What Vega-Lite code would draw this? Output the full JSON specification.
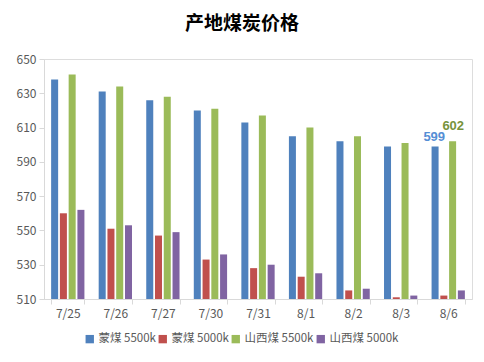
{
  "$schema": "https://vega.github.io/schema/vega-lite/v6.json",
  "width": 428,
  "height": 240,
  "autosize": {"type": "none"},
  "padding": {"left": 44, "top": 59, "right": 12, "bottom": 63},
  "background": "white",
  "title": {
    "text": "产地煤炭价格",
    "fontSize": 19,
    "fontWeight": "bold",
    "font": "Noto Sans CJK SC",
    "color": "#000000",
    "anchor": "middle",
    "dx": -16,
    "offset": 19
  },
  "data": {
    "values": [
      {"date": "7/25", "series": "蒙煤 5500k", "price": 638},
      {"date": "7/25", "series": "蒙煤 5000k", "price": 560},
      {"date": "7/25", "series": "山西煤 5500k", "price": 641},
      {"date": "7/25", "series": "山西煤 5000k", "price": 562},
      {"date": "7/26", "series": "蒙煤 5500k", "price": 631},
      {"date": "7/26", "series": "蒙煤 5000k", "price": 551},
      {"date": "7/26", "series": "山西煤 5500k", "price": 634},
      {"date": "7/26", "series": "山西煤 5000k", "price": 553},
      {"date": "7/27", "series": "蒙煤 5500k", "price": 626},
      {"date": "7/27", "series": "蒙煤 5000k", "price": 547},
      {"date": "7/27", "series": "山西煤 5500k", "price": 628},
      {"date": "7/27", "series": "山西煤 5000k", "price": 549},
      {"date": "7/30", "series": "蒙煤 5500k", "price": 620},
      {"date": "7/30", "series": "蒙煤 5000k", "price": 533},
      {"date": "7/30", "series": "山西煤 5500k", "price": 621},
      {"date": "7/30", "series": "山西煤 5000k", "price": 536},
      {"date": "7/31", "series": "蒙煤 5500k", "price": 613},
      {"date": "7/31", "series": "蒙煤 5000k", "price": 528},
      {"date": "7/31", "series": "山西煤 5500k", "price": 617},
      {"date": "7/31", "series": "山西煤 5000k", "price": 530},
      {"date": "8/1", "series": "蒙煤 5500k", "price": 605},
      {"date": "8/1", "series": "蒙煤 5000k", "price": 523},
      {"date": "8/1", "series": "山西煤 5500k", "price": 610},
      {"date": "8/1", "series": "山西煤 5000k", "price": 525},
      {"date": "8/2", "series": "蒙煤 5500k", "price": 602},
      {"date": "8/2", "series": "蒙煤 5000k", "price": 515},
      {"date": "8/2", "series": "山西煤 5500k", "price": 605},
      {"date": "8/2", "series": "山西煤 5000k", "price": 516},
      {"date": "8/3", "series": "蒙煤 5500k", "price": 599},
      {"date": "8/3", "series": "蒙煤 5000k", "price": 511},
      {"date": "8/3", "series": "山西煤 5500k", "price": 601},
      {"date": "8/3", "series": "山西煤 5000k", "price": 512},
      {"date": "8/6", "series": "蒙煤 5500k", "price": 599},
      {"date": "8/6", "series": "蒙煤 5000k", "price": 512},
      {"date": "8/6", "series": "山西煤 5500k", "price": 602},
      {"date": "8/6", "series": "山西煤 5000k", "price": 515}
    ]
  },
  "encoding": {
    "x": {
      "field": "date",
      "type": "nominal",
      "sort": null,
      "scale": {"paddingInner": 0.3, "paddingOuter": 0.15},
      "axis": {
        "title": null,
        "labelAngle": 0,
        "tickBand": "extent",
        "domainColor": "#d9d9d9",
        "tickColor": "#d9d9d9",
        "tickSize": 5,
        "labelColor": "#595959",
        "labelFontSize": 12,
        "labelFont": "Noto Sans CJK SC",
        "labelPadding": 4,
        "grid": false
      }
    },
    "y": {
      "field": "price",
      "type": "quantitative",
      "scale": {"domain": [510, 650], "zero": false, "nice": false},
      "axis": {
        "title": null,
        "values": [510, 530, 550, 570, 590, 610, 630, 650],
        "grid": false,
        "domainColor": "#d9d9d9",
        "tickColor": "#d9d9d9",
        "tickSize": 5,
        "labelColor": "#595959",
        "labelFontSize": 12,
        "labelFont": "Noto Sans CJK SC",
        "labelPadding": 3
      }
    }
  },
  "layer": [
    {
      "mark": {"type": "bar", "clip": true},
      "encoding": {
        "xOffset": {
          "field": "series",
          "type": "nominal",
          "sort": ["蒙煤 5500k", "蒙煤 5000k", "山西煤 5500k", "山西煤 5000k"],
          "scale": {"paddingInner": 0.2}
        },
        "y2": {"datum": 510},
        "color": {
          "field": "series",
          "type": "nominal",
          "sort": ["蒙煤 5500k", "蒙煤 5000k", "山西煤 5500k", "山西煤 5000k"],
          "scale": {
            "domain": ["蒙煤 5500k", "蒙煤 5000k", "山西煤 5500k", "山西煤 5000k"],
            "range": ["#4f81bd", "#c0504d", "#9bbb59", "#8064a2"]
          },
          "legend": {
            "title": null,
            "orient": "none",
            "legendX": 40,
            "legendY": 274,
            "direction": "horizontal",
            "symbolType": "square",
            "symbolSize": 70,
            "symbolStrokeWidth": 0,
            "labelFontSize": 11.5,
            "labelColor": "#595959",
            "labelFont": "Noto Sans CJK SC",
            "columnPadding": 1,
            "labelOffset": 3
          }
        }
      }
    },
    {
      "transform": [{"filter": "datum.date === '8/6' && datum.series === '蒙煤 5500k'"}],
      "mark": {"type": "text", "fontWeight": "bold", "fontSize": 13, "color": "#558ed5", "baseline": "bottom", "dy": -2, "dx": -14},
      "encoding": {"text": {"field": "price", "type": "quantitative"}}
    },
    {
      "transform": [{"filter": "datum.date === '8/6' && datum.series === '山西煤 5500k'"}],
      "mark": {"type": "text", "fontWeight": "bold", "fontSize": 13, "color": "#77933c", "baseline": "bottom", "dy": -8, "dx": 5},
      "encoding": {"text": {"field": "price", "type": "quantitative"}}
    }
  ]
}
